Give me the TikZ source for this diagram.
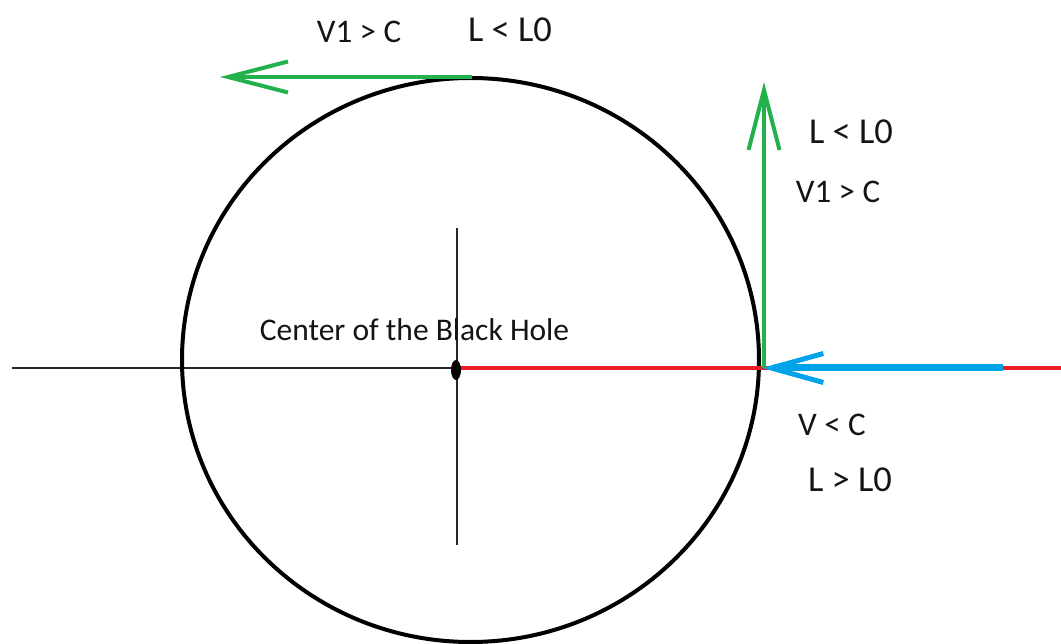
\documentclass[tikz,border=0pt]{standalone}
\usepackage{fontspec}
\setmainfont{Carlito}
\usepackage{xcolor}
\usetikzlibrary{arrows.meta}
\definecolor{paintgreen}{HTML}{22B14C}
\definecolor{paintred}{HTML}{ED1C24}
\definecolor{paintblue}{HTML}{00A2E8}
\definecolor{paintink}{HTML}{141414}

\begin{document}
\begin{tikzpicture}[
  x=1pt,
  y=-1pt,
  every node/.style={paintink, inner sep=0pt},
  smalllabel/.style={font=\fontsize{33}{38}\selectfont},
  biglabel/.style={font=\fontsize{36.5}{42}\selectfont},
  centrelabel/.style={font=\fontsize{31.5}{36}\selectfont},
  axisline/.style={black!85, line width=1.6pt},
  horizon/.style={black, line width=4pt},
  radial/.style={paintred, line width=4pt},
  greenarrow/.style={paintgreen, line width=4pt,
                     -{Straight Barb[length=60pt, width=31pt, line width=4pt]}},
  bluearrow/.style={paintblue, line width=7pt,
                    -{Straight Barb[length=52pt, width=29pt, line width=5pt]}}
]
  \useasboundingbox (0,0) rectangle (1061,644);

  %% ---- 座標 --------------------------------------------------------------
  \coordinate (hole)    at (457,368);
  \coordinate (axisW)   at (12,368);
  \coordinate (axisN)   at (457,228);
  \coordinate (axisS)   at (457,545);
  \coordinate (edge)    at (762,368);
  \coordinate (farE)    at (1061,368);
  \coordinate (inflow)  at (1003,368);
  \coordinate (topP)    at (472,77);
  \coordinate (topTip)  at (220,77);
  \coordinate (sideTip) at (764,82);

  %% ---- 軸線與視界 --------------------------------------------------------
  \draw[axisline] (axisW) -- (hole);
  \draw[axisline] (axisN) -- (axisS);
  \draw[horizon] (470.5,360) ellipse[x radius=288.5, y radius=282];
  \draw[radial] (hole) -- (farE);
  \fill[black] (456,370) ellipse[x radius=5, y radius=10];

  %% ---- 速度箭頭 ----------------------------------------------------------
  \draw[bluearrow] (inflow) -- (edge);
  \draw[greenarrow] (topP) -- (topTip);
  \draw[greenarrow] (764,368) -- (sideTip);

  %% ---- 文字 --------------------------------------------------------------
  \node[centrelabel] (centre) at (414.5,330) {Center of the Black Hole};

  \node[smalllabel] (topV) at (359,32) {V1 > C};
  \node[biglabel]   (topL) at (510,30) {L < L0};

  \node[biglabel]   (sideL) at (851,132) {L < L0};
  \node[smalllabel] (sideV) at (838,192) {V1 > C};

  \node[smalllabel] (inV) at (832,425) {V < C};
  \node[biglabel]   (inL) at (850,480) {L > L0};
\end{tikzpicture}
\end{document}
